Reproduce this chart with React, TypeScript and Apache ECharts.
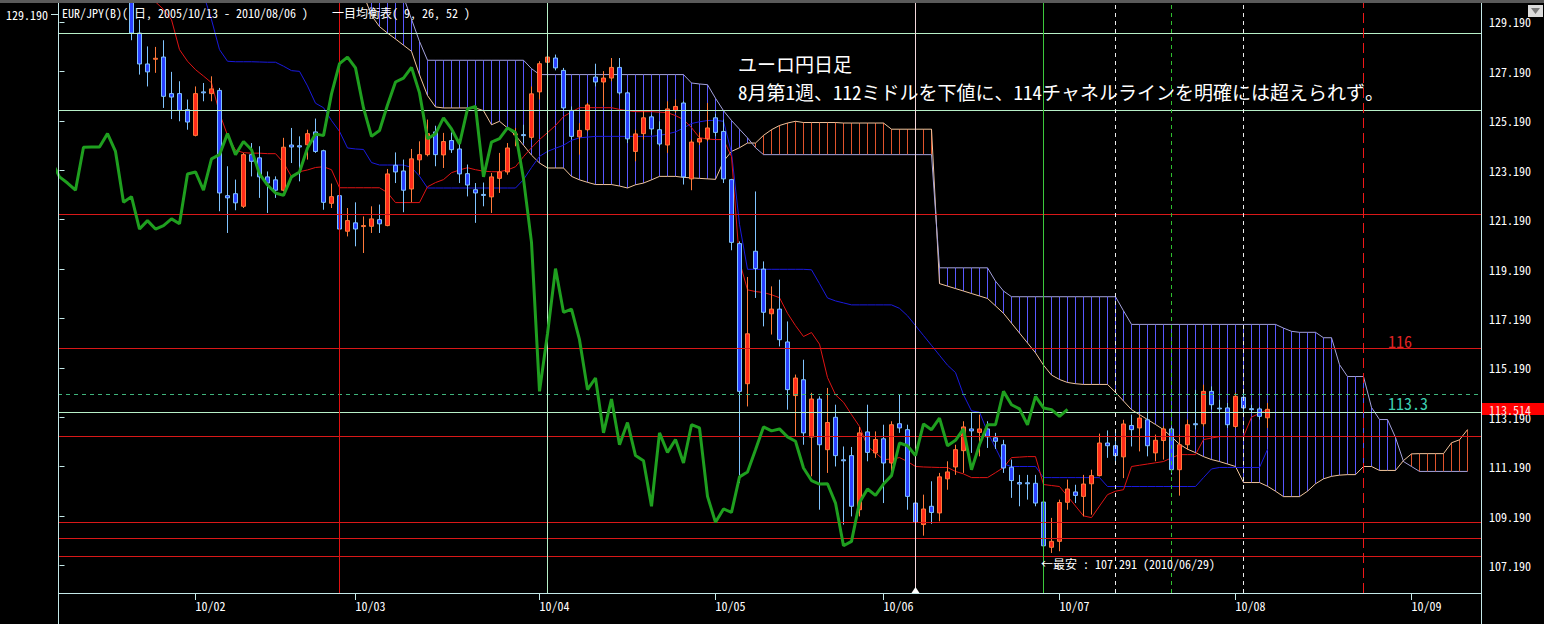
import React, { useEffect, useRef } from "react";
import * as echarts from "echarts";

// ---- axis layout values -------------------------------------------------
// x is a trading-day index: 0 = 2010/01/07, one step per weekday.
const X_MIN = -0.1875;
const X_MAX = 177.6875;
const Y_MIN = 106.08;
const Y_MAX = 129.957;

const MONTH_TICKS = [17, 37, 60, 82, 103, 125, 147, 169];
const MONTH_LABELS = ["10/02", "10/03", "10/04", "10/05", "10/06", "10/07", "10/08", "10/09"];
const PRICE_TICKS = [107.19, 109.19, 111.19, 113.19, 115.19, 117.19, 119.19, 121.19, 123.19, 125.19, 127.19, 129.19];

// ---- daily candles: [open, close, low, high], first one on index 9 -------
const CANDLE_START = 9;
const CANDLES: number[][] = [
  [130.3, 128.74, 128.45, 130.6],
  [128.74, 127.49, 127.06, 129.28],
  [127.49, 127.17, 126.58, 128.2],
  [127.68, 127.72, 127.13, 128.18],
  [127.77, 126.18, 125.71, 128.45],
  [126.29, 126.15, 125.26, 127.17],
  [126.29, 125.61, 125.17, 126.79],
  [125.64, 125.14, 124.83, 126.05],
  [124.6, 126.29, 124.56, 126.58],
  [126.36, 126.32, 125.98, 126.72],
  [126.29, 126.48, 125.98, 126.99],
  [126.42, 122.27, 121.53, 126.52],
  [122.16, 122.07, 120.65, 123.35],
  [122.24, 121.87, 121.57, 122.81],
  [121.73, 123.82, 121.66, 123.89],
  [123.82, 123.55, 122.94, 124.29],
  [123.69, 122.92, 122.07, 124.16],
  [122.92, 122.67, 121.46, 123.14],
  [122.8, 122.38, 122.07, 122.94],
  [122.38, 124.12, 122.33, 124.5],
  [124.21, 124.13, 123.48, 124.9],
  [124.18, 124.13, 122.74, 124.56],
  [124.22, 124.67, 123.62, 124.83],
  [124.74, 123.95, 123.89, 125.28],
  [123.98, 121.89, 121.59, 124.02],
  [121.85, 122.12, 121.66, 122.65],
  [122.16, 120.81, 119.64, 122.54],
  [120.72, 121.15, 120.51, 121.66],
  [121.06, 120.81, 120.11, 121.89],
  [120.91, 120.95, 119.84, 121.32],
  [120.92, 121.22, 120.65, 121.73],
  [121.19, 121.02, 120.65, 121.8],
  [120.95, 123.04, 120.92, 123.24],
  [123.39, 123.12, 122.67, 123.91],
  [123.16, 122.38, 121.49, 123.62],
  [122.43, 123.65, 121.89, 124.05],
  [123.61, 123.82, 123.01, 124.36],
  [123.82, 124.67, 123.75, 125.24],
  [124.74, 123.82, 123.35, 124.99],
  [123.81, 124.35, 123.28, 124.7],
  [124.39, 124.02, 123.89, 124.72],
  [124.05, 123.04, 122.67, 124.29],
  [123.05, 122.59, 122.13, 123.42],
  [122.4, 122.27, 121.06, 122.67],
  [122.21, 122.17, 121.73, 122.69],
  [122.11, 122.92, 121.46, 123.08],
  [122.86, 123.12, 122.27, 123.89],
  [123.12, 124.09, 123.01, 124.29],
  [124.62, 124.66, 124.16, 124.9],
  [124.63, 124.59, 124.29, 125.03],
  [124.52, 126.28, 124.43, 126.58],
  [126.36, 127.5, 126.05, 127.6],
  [127.56, 127.77, 126.92, 127.96],
  [127.73, 127.33, 127.23, 127.87],
  [127.23, 125.71, 125.64, 127.33],
  [125.61, 124.56, 124.43, 125.77],
  [124.54, 124.8, 123.82, 125.1],
  [124.83, 125.83, 124.76, 125.91],
  [126.96, 126.76, 126.58, 127.5],
  [126.76, 126.92, 125.8, 127.2],
  [126.92, 127.35, 126.79, 127.73],
  [127.35, 126.32, 126.25, 127.73],
  [126.32, 124.46, 124.29, 126.38],
  [123.95, 124.66, 123.55, 124.83],
  [124.67, 125.31, 124.43, 125.57],
  [125.35, 124.86, 124.63, 125.44],
  [124.83, 124.25, 124.16, 125.17],
  [124.21, 125.67, 123.89, 125.98],
  [125.6, 125.77, 125.51, 126.05],
  [125.91, 122.92, 122.61, 125.98],
  [122.84, 124.33, 122.38, 124.43],
  [124.33, 124.47, 124.21, 124.72],
  [124.46, 124.9, 124.36, 125.91],
  [125.31, 124.72, 124.56, 125.48],
  [124.76, 122.84, 122.67, 125.24],
  [122.81, 120.27, 119.95, 122.84],
  [120.22, 114.24, 110.53, 120.31],
  [114.55, 116.57, 113.63, 118.87],
  [119.91, 119.21, 118.02, 122.33],
  [119.19, 117.44, 116.87, 119.5],
  [117.38, 117.57, 116.54, 118.49],
  [117.57, 116.33, 116.06, 118.76],
  [116.24, 114.31, 113.5, 117.07],
  [114.07, 114.78, 112.42, 114.92],
  [114.71, 112.56, 112.08, 115.52],
  [112.39, 113.93, 110.8, 114.18],
  [113.93, 112.08, 109.45, 114.04],
  [111.88, 112.98, 110.94, 114.38],
  [113.19, 111.64, 111.2, 113.7],
  [111.47, 111.43, 108.85, 112.01],
  [111.64, 109.59, 109.18, 111.99],
  [109.45, 112.56, 109.18, 112.8],
  [112.6, 111.77, 111.41, 113.7],
  [111.75, 112.29, 111.55, 112.62],
  [112.32, 111.34, 109.72, 112.89],
  [111.34, 112.89, 111.0, 113.03],
  [112.93, 112.76, 112.56, 114.11],
  [112.69, 109.99, 109.45, 112.89],
  [109.72, 108.94, 108.11, 110.13],
  [108.85, 109.48, 108.4, 110.06],
  [109.59, 109.34, 108.88, 110.6],
  [109.32, 110.78, 108.98, 110.94],
  [110.7, 110.98, 110.26, 111.41],
  [111.18, 111.88, 110.86, 112.08],
  [111.84, 112.8, 110.94, 113.03],
  [112.72, 112.64, 111.75, 113.37],
  [112.58, 112.72, 111.61, 113.3],
  [112.72, 112.4, 111.95, 113.03],
  [112.36, 112.22, 111.91, 112.56],
  [112.08, 111.14, 110.94, 112.28],
  [111.17, 110.63, 109.93, 111.48],
  [110.55, 110.49, 109.59, 110.86],
  [110.54, 110.5, 109.86, 110.86],
  [110.52, 109.72, 109.59, 110.86],
  [109.76, 107.99, 107.291, 109.79],
  [107.93, 108.17, 107.7, 109.12],
  [108.17, 109.74, 107.77, 109.86],
  [109.75, 110.29, 109.45, 110.67],
  [110.17, 110.03, 109.72, 110.46],
  [109.99, 110.49, 109.18, 110.86],
  [110.5, 110.83, 109.25, 111.07],
  [110.83, 112.15, 110.8, 112.53],
  [112.15, 112.04, 111.55, 112.66],
  [112.04, 111.64, 111.27, 112.62],
  [111.59, 112.92, 110.73, 113.09],
  [112.86, 112.69, 112.01, 113.3],
  [112.76, 113.16, 111.81, 113.3],
  [113.09, 112.04, 111.61, 113.37],
  [111.75, 112.26, 111.41, 112.49],
  [112.25, 112.72, 111.48, 112.82],
  [112.72, 111.07, 110.87, 112.82],
  [111.07, 112.08, 110.02, 112.49],
  [112.08, 112.89, 111.88, 113.1],
  [112.93, 112.89, 112.7, 114.3],
  [112.93, 114.24, 112.82, 114.51],
  [114.24, 113.7, 113.5, 114.44],
  [113.56, 113.53, 113.4, 113.9],
  [113.57, 112.89, 112.76, 113.77],
  [112.82, 114.04, 112.76, 114.18],
  [114.0, 113.57, 113.4, 114.2],
  [113.54, 113.5, 113.4, 113.7],
  [113.53, 113.23, 113.1, 113.6],
  [113.17, 113.514, 112.76, 113.77],
];

// ---- Ichimoku lines ------------------------------------------------------
const TENKAN_START = 12;
const TENKAN = [
  130.0, 129.7, 129.28, 128.07, 127.6, 127.26, 127.0, 126.73, 125.5, 124.6,
  124.0, 123.9, 123.88, 123.88, 123.86, 123.86, 123.5, 122.93, 123.13, 123.2,
  123.3, 123.33, 123.21, 122.48, 122.48, 122.48, 122.48, 122.48, 122.48, 122.28,
  121.88, 121.88, 121.88, 121.88, 122.52, 122.69, 122.81, 123.09, 123.2, 123.29,
  123.21, 123.15, 123.13, 123.13, 123.2, 123.33, 123.74, 124.1, 124.43, 124.71,
  125.0, 125.36, 125.55, 125.72, 125.72, 125.72, 125.72, 125.72, 125.65, 125.6,
  125.56, 125.56, 125.56, 125.54, 125.52, 125.4, 125.24, 124.91, 124.51, 124.45,
  124.43, 124.43, 123.74, 119.5, 118.35, 118.28, 118.24, 118.15, 118.03, 117.4,
  116.9, 116.46, 116.62, 116.15, 114.8, 114.1, 113.8, 113.3, 112.82, 112.01,
  111.75, 111.48, 111.5, 111.56, 111.4, 111.2, 111.18, 111.17, 111.16, 111.16,
  111.0, 110.9, 110.75, 110.75, 110.75, 110.95, 111.16, 111.56, 111.58, 111.6,
  111.6, 110.47, 110.43, 110.39, 110.0, 109.6, 109.2, 109.13, 109.6, 110.06,
  110.2, 110.26, 111.2, 111.25, 111.3, 111.35, 111.4, 111.55, 111.68, 111.68,
  111.68, 112.29, 112.35, 112.41, 112.41, 112.41, 112.41, 113.2, 113.35, 113.51,
];

const KIJUN_START = 18;
const KIJUN = [
  130.3, 129.28, 128.07, 127.6, 127.58, 127.58, 127.58, 127.57, 127.56, 127.56,
  127.4, 127.22, 127.19, 126.6, 125.9, 125.72, 125.2, 124.76, 124.09, 124.05,
  124.03, 123.5, 123.4, 123.4, 123.4, 123.4, 123.3, 122.95, 122.47, 122.47,
  122.47, 122.47, 122.47, 122.47, 122.47, 122.47, 122.47, 122.47, 122.47, 122.47,
  122.81, 123.3, 123.75, 123.95, 124.08, 124.2, 124.4, 124.5, 124.53, 124.56,
  124.56, 124.56, 124.56, 124.56, 124.56, 124.56, 124.56, 124.6, 124.66, 124.74,
  124.9, 125.08, 125.15, 125.2, 125.21, 125.17, 123.9, 121.0, 119.18, 119.18,
  119.18, 119.18, 119.18, 119.18, 119.18, 119.18, 119.16, 118.6, 118.02, 117.9,
  117.82, 117.74, 117.74, 117.74, 117.74, 117.74, 117.74, 117.6, 117.3, 116.9,
  116.5, 116.1, 115.7, 115.3, 115.0, 114.1, 113.45, 113.4, 112.6, 111.95,
  111.3, 111.2, 111.2, 111.2, 111.2, 110.75, 110.75, 110.75, 110.75, 110.75,
  110.75, 110.75, 110.75, 110.39, 110.39, 110.39, 110.39, 110.39, 110.39, 110.39,
  110.39, 110.39, 110.39, 110.39, 110.39, 110.75, 111.1, 111.16, 111.16, 111.16,
  111.16, 111.16, 111.16, 111.89,
];

// leading spans, both starting on index 38 and running 25 days past the last candle
const CLOUD_START = 38;
const SPAN_A = [
  130.3, 129.45, 129.0, 128.74, 128.5, 128.25, 128.0, 127.05, 126.21, 125.75,
  125.71, 125.71, 125.71, 125.71, 125.71, 125.6, 125.03, 125.17, 124.9, 124.6,
  124.2, 123.8, 123.48, 123.28, 123.28, 123.28, 122.94, 122.8, 122.7, 122.61,
  122.61, 122.61, 122.55, 122.47, 122.6, 122.67, 122.8, 122.94, 122.94, 122.94,
  122.9, 122.88, 122.86, 122.84, 122.82, 123.55, 123.95, 124.1, 124.29, 124.29,
  124.6, 124.83, 125.0, 125.1, 125.17, 125.12, 125.12, 125.12, 125.12, 125.12,
  125.1, 125.1, 125.1, 125.1, 125.1, 125.1, 124.85, 124.85, 124.85, 124.85,
  124.85, 124.85, 118.6, 118.5, 118.4, 118.3, 118.2, 118.1, 118.0, 117.7,
  117.4, 117.0, 116.6, 116.2, 115.8, 115.3, 114.9, 114.72, 114.6, 114.55,
  114.52, 114.52, 114.52, 114.52, 114.2, 113.85, 113.5, 113.3, 113.1, 112.9,
  112.69, 112.4, 112.1, 111.9, 111.76, 111.6, 111.48, 111.4, 111.3, 111.2,
  110.55, 110.55, 110.55, 110.4, 110.2, 109.98, 109.98, 109.98, 110.2, 110.5,
  110.7, 110.8, 110.85, 110.87, 110.87, 111.2, 111.2, 111.04, 111.04, 111.04,
  111.44, 111.71, 111.72, 111.72, 111.72, 111.72, 112.16, 112.28, 112.69,
];
const SPAN_B = [
  132.0, 131.6, 131.2, 130.9, 130.6, 130.2, 129.3, 128.4, 127.64, 127.64,
  127.64, 127.64, 127.64, 127.64, 127.64, 127.64, 127.64, 127.64, 127.64, 127.64,
  127.64, 127.3, 127.06, 127.06, 127.06, 127.06, 127.06, 127.06, 127.06, 127.06,
  127.06, 127.06, 127.06, 127.06, 127.06, 127.06, 127.06, 127.06, 127.06, 127.06,
  127.06, 126.72, 126.68, 126.65, 126.1, 125.6, 125.2, 124.85, 124.5, 124.1,
  123.82, 123.82, 123.82, 123.82, 123.82, 123.82, 123.82, 123.82, 123.82, 123.82,
  123.82, 123.82, 123.82, 123.82, 123.82, 123.82, 123.82, 123.82, 123.82, 123.82,
  123.82, 123.82, 119.24, 119.24, 119.24, 119.24, 119.24, 119.24, 119.24, 118.7,
  118.3, 118.07, 118.07, 118.07, 118.07, 118.07, 118.07, 118.07, 118.07, 118.07,
  118.07, 118.07, 118.07, 118.07, 118.07, 117.5, 116.95, 116.95, 116.95, 116.95,
  116.95, 116.95, 116.95, 116.95, 116.95, 116.95, 116.95, 116.95, 116.95, 116.95,
  116.95, 116.95, 116.95, 116.95, 116.95, 116.8, 116.67, 116.63, 116.63, 116.63,
  116.41, 116.41, 115.32, 114.84, 114.84, 114.84, 113.59, 113.1, 113.1, 112.37,
  111.4, 111.2, 111.0, 111.0, 111.0, 111.0, 111.0, 111.0, 111.0,
];

const CHIKOU_SHIFT = 25;

// ---- hand-drawn levels and markers -----------------------------------------
const MINT_LEVELS = [128.74, 125.6, 113.4];
const RED_LEVELS = [121.42, 116.0, 112.41, 108.95, 108.29, 107.55];
const DASHED_GREEN_LEVELS = [114.14];
const RED_DAYS = [35];
const MINT_DAYS = [61];
const WHITE_DAYS = [107];
const GREEN_DAYS = [123];
const WHITE_DASHED_DAYS = [132, 148];
const GREEN_DASHED_DAYS = [139];
const RED_DASHED_DAYS = [163];
const LAST_PRICE = 113.514;

// ---- colours / fonts -----------------------------------------------------
const MONO = '"Noto Sans Mono CJK JP", "DejaVu Sans Mono", monospace';
const AXIS = "#c4e8e8";
const MINT = "#b8f0c8";
const RED = "#d81818";
const UP_FILL = "#ff2a1a";
const UP_EDGE = "#ff7a3a";
const DOWN_FILL = "#2a40ff";
const DOWN_EDGE = "#80c4ff";
const HATCH_BEAR = "#5858ff";
const HATCH_BULL = "#e0542c";

function pairs(start: number, values: number[]) {
  return values.map((v, k) => [start + k, v]);
}

// one vertical stroke per day between the two spans, separated by gaps
function hatchSegments(bearish: boolean) {
  const out: any[] = [];
  SPAN_A.forEach((a, k) => {
    const b = SPAN_B[k];
    if (b >= a !== bearish) return;
    const x = CLOUD_START + k;
    out.push([x, a], [x, b], [x, "-"]);
  });
  return out;
}

function buildOption(): any {
  const candleData = CANDLES.map((c, k) => [CANDLE_START + k, c[0], c[1], c[2], c[3]]);
  const chikouData = CANDLES.map((c, k) => [CANDLE_START + k - CHIKOU_SHIFT, c[1]]);

  const hLine = (v: number, color: string, type: any = "solid") => ({
    yAxis: v,
    lineStyle: { color, width: 1, type },
  });
  const vLine = (d: number, color: string, type: any = "solid") => ({
    xAxis: d,
    lineStyle: { color, width: 1, type },
  });

  const markData = [
    ...MINT_LEVELS.map((v) => hLine(v, MINT)),
    ...RED_LEVELS.map((v) => hLine(v, RED)),
    ...DASHED_GREEN_LEVELS.map((v) => hLine(v, "#3fb47c", [4, 4])),
    ...RED_DAYS.map((d) => vLine(d, "#e01010")),
    ...MINT_DAYS.map((d) => vLine(d, MINT)),
    ...WHITE_DAYS.map((d) => vLine(d, "#f2d6da")),
    ...GREEN_DAYS.map((d) => vLine(d, "#3cc83c")),
    ...WHITE_DASHED_DAYS.map((d) => vLine(d, "#ececec", [4, 4])),
    ...GREEN_DASHED_DAYS.map((d) => vLine(d, "#30c030", [4, 4])),
    ...RED_DASHED_DAYS.map((d) => vLine(d, "#f01818", [10, 5])),
  ];

  const tagY = 3 + ((Y_MAX - LAST_PRICE) / (Y_MAX - Y_MIN)) * 590;

  const plainLine = (name: string, data: any[], color: string, width: number, z: number, extra: any = {}) => ({
    name,
    type: "line",
    z,
    silent: true,
    clip: true,
    showSymbol: false,
    connectNulls: false,
    data,
    itemStyle: { color },
    lineStyle: { color, width },
    ...extra,
  });

  return {
    animation: false,
    backgroundColor: "#000",
    grid: { left: 58, right: 63, top: 3, bottom: 31, containLabel: false },
    xAxis: {
      type: "value",
      min: X_MIN,
      max: X_MAX,
      axisLine: { show: false },
      splitLine: { show: false },
      axisTick: { show: true, customValues: MONTH_TICKS, length: 7, lineStyle: { color: AXIS } },
      axisLabel: {
        customValues: MONTH_TICKS,
        formatter: (v: number) => MONTH_LABELS[MONTH_TICKS.indexOf(Math.round(v))] ?? "",
        color: "#ffffff",
        fontSize: 12,
        fontFamily: MONO,
        align: "left",
        margin: 6,
      },
    },
    yAxis: {
      type: "value",
      position: "right",
      min: Y_MIN,
      max: Y_MAX,
      scale: true,
      axisLine: { show: false },
      splitLine: { show: false },
      axisTick: { show: true, customValues: PRICE_TICKS, length: 5, lineStyle: { color: AXIS } },
      axisLabel: {
        customValues: PRICE_TICKS,
        formatter: (v: number) => v.toFixed(3),
        color: "#ffffff",
        fontSize: 12,
        fontFamily: MONO,
        margin: 8,
      },
    },
    series: [
      plainLine("雲(陰)", hatchSegments(true), HATCH_BEAR, 1, 1),
      plainLine("雲(陽)", hatchSegments(false), HATCH_BULL, 1, 1),
      plainLine("先行スパン1", pairs(CLOUD_START, SPAN_A), "#f0c49c", 1, 2, {
        markLine: {
          silent: true,
          symbol: ["none", "none"],
          label: { show: false },
          data: markData,
        },
      }),
      plainLine("先行スパン2", pairs(CLOUD_START, SPAN_B), "#a4a2dc", 1, 2),
      plainLine("基準線", pairs(KIJUN_START, KIJUN), "#1a1ade", 1, 3),
      plainLine("転換線", pairs(TENKAN_START, TENKAN), "#e01414", 1, 3),
      {
        name: "EUR/JPY",
        type: "candlestick",
        z: 4,
        silent: true,
        clip: true,
        barWidth: 4,
        data: candleData,
        encode: { x: 0, y: [1, 2, 3, 4] },
        itemStyle: {
          color: UP_FILL,
          color0: DOWN_FILL,
          borderColor: UP_EDGE,
          borderColor0: DOWN_EDGE,
          borderWidth: 1,
        },
      },
      plainLine("遅行スパン", chikouData, "#1f9f1f", 3, 5),
    ],
    graphic: [
      { type: "rect", z: 100, shape: { x: 0, y: 0, width: 1544, height: 3 }, style: { fill: "#5a5a5a" } },
      { type: "line", z: 100, shape: { x1: 58.5, y1: 3, x2: 58.5, y2: 624 }, style: { stroke: AXIS, lineWidth: 1 } },
      { type: "line", z: 100, shape: { x1: 1481.5, y1: 3, x2: 1481.5, y2: 624 }, style: { stroke: AXIS, lineWidth: 1 } },
      { type: "line", z: 100, shape: { x1: 58, y1: 593.5, x2: 1481, y2: 593.5 }, style: { stroke: AXIS, lineWidth: 1 } },
      { type: "line", z: 100, shape: { x1: 51, y1: 14.5, x2: 58, y2: 14.5 }, style: { stroke: AXIS, lineWidth: 1 } },
      {
        type: "text", z: 100, x: 6, y: 14,
        style: { text: "129.190", fill: "#ffffff", fontSize: 12, fontFamily: MONO, verticalAlign: "middle" },
      },
      {
        type: "text", z: 100, x: 62, y: 12,
        style: {
          text: "EUR/JPY(B)( 日, 2005/10/13 - 2010/08/06 )    一目均衡表( 9, 26, 52 )",
          fill: "#ffffff", fontSize: 12, fontFamily: MONO, verticalAlign: "middle",
        },
      },
      {
        type: "text", z: 100, x: 738, y: 63,
        style: { text: "ユーロ円日足", fill: "#ffffff", fontSize: 19, fontFamily: MONO, verticalAlign: "middle" },
      },
      {
        type: "text", z: 100, x: 738, y: 91,
        style: {
          text: "8月第1週、112ミドルを下値に、114チャネルラインを明確には超えられず。",
          fill: "#ffffff", fontSize: 19, fontFamily: MONO, verticalAlign: "middle",
        },
      },
      {
        type: "text", z: 100, x: 1388, y: 341,
        style: { text: "116", fill: "#e02424", fontSize: 16, fontFamily: MONO, verticalAlign: "middle" },
      },
      {
        type: "text", z: 100, x: 1388, y: 403,
        style: { text: "113.3", fill: "#3ccfb0", fontSize: 16, fontFamily: MONO, verticalAlign: "middle" },
      },
      {
        type: "text", z: 100, x: 1041, y: 563,
        style: { text: "←最安 : 107.291 (2010/06/29)", fill: "#ffffff", fontSize: 12, fontFamily: MONO, verticalAlign: "middle" },
      },
      {
        type: "rect", z: 100, shape: { x: 1482, y: Math.round(tagY) - 6, width: 62, height: 12 },
        style: { fill: "#ff0000" },
      },
      {
        type: "text", z: 101, x: 1489, y: Math.round(tagY),
        style: { text: LAST_PRICE.toFixed(3), fill: "#ffe4e4", fontSize: 12, fontFamily: MONO, verticalAlign: "middle" },
      },
      { type: "rect", z: 100, shape: { x: 1528, y: 5, width: 15, height: 12 }, style: { fill: "#dcdcdc" } },
      { type: "polygon", z: 101, shape: { points: [[1531, 8], [1540, 8], [1535.5, 14]] }, style: { fill: "#7a7a7a" } },
      { type: "polygon", z: 101, shape: { points: [[911.5, 593], [919.5, 593], [915.5, 587]] }, style: { fill: "#ffffff" } },
    ],
  };
}

export default function App() {
  const ref = useRef<HTMLDivElement>(null);
  useEffect(() => {
    if (!ref.current) return;
    const chart = echarts.init(ref.current, undefined, { renderer: "svg" });
    chart.setOption(buildOption());
    return () => chart.dispose();
  }, []);
  return (
    <div
      ref={ref}
      style={{ position: "fixed", left: 0, top: 0, width: 1544, height: 624, background: "#000" }}
    />
  );
}
